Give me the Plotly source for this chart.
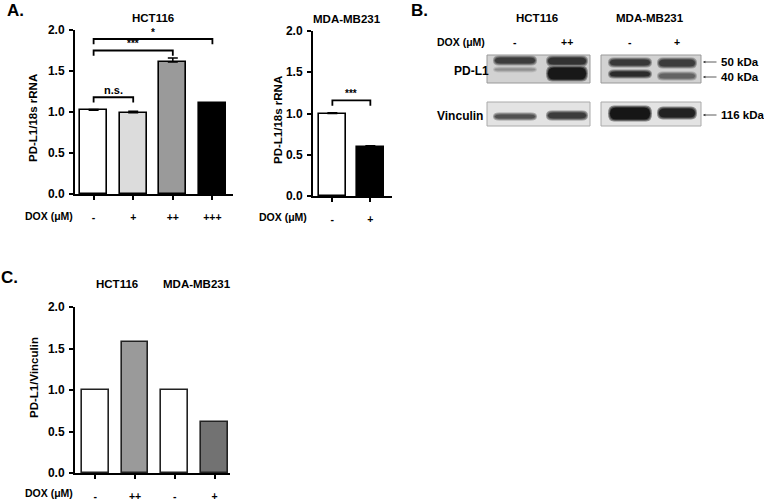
import plotly.graph_objects as go

W, H = 764, 502
FONT = "Arial, Liberation Sans, sans-serif"

# ---- data ----
hct_labels = ["-", "+", "++", "+++"]
hct_vals = [1.02, 0.99, 1.61, 1.11]
hct_err = [0.01, 0.02, 0.05, 0.0]
hct_colors = ["#ffffff", "#dcdcdc", "#9a9a9a", "#000000"]
hct_sig = [(0, 1, 1.18, "n.s."), (0, 2, 1.75, "***"), (0, 3, 1.89, "*")]

mda_labels = ["-", "+"]
mda_vals = [1.0, 0.59]
mda_err = [0.01, 0.02]
mda_colors = ["#ffffff", "#000000"]
mda_sig = [(0, 1, 1.16, "***")]

c_labels = ["-", "++", "-", "+"]
c_vals = [1.0, 1.58, 1.0, 0.62]
c_colors = ["#ffffff", "#9a9a9a", "#ffffff", "#727272"]

yticks = [0.0, 0.5, 1.0, 1.5, 2.0]

# western blot band intensity (0 light .. 1 dark), lanes: HCT -, HCT ++, MDA -, MDA +
pdl1_upper = [0.80, 0.85, 0.82, 0.80]
pdl1_lower = [0.40, 0.97, 0.88, 0.62]
vinc_band = [0.70, 0.80, 0.98, 0.93]


def px(x):
    return x / W


def py(y):
    return 1 - y / H


def gray(v):
    g = int(round(210 * (1 - v) + 18))
    return f"rgb({g},{g},{g})"


fig = go.Figure()
fig.add_trace(go.Bar(x=list(range(4)), y=hct_vals, width=0.69,
                     marker=dict(color=hct_colors, line=dict(color="black", width=1.6)),
                     error_y=dict(type="data", array=hct_err, arrayminus=[0] * 4, symmetric=False,
                                  color="black", thickness=1.5, width=5),
                     xaxis="x", yaxis="y", showlegend=False))
fig.add_trace(go.Bar(x=list(range(2)), y=mda_vals, width=0.71,
                     marker=dict(color=mda_colors, line=dict(color="black", width=1.6)),
                     error_y=dict(type="data", array=mda_err, arrayminus=[0] * 2, symmetric=False,
                                  color="black", thickness=1.5, width=5),
                     xaxis="x2", yaxis="y2", showlegend=False))
fig.add_trace(go.Bar(x=list(range(4)), y=c_vals, width=0.67,
                     marker=dict(color=c_colors, line=dict(color="#222", width=1.6)),
                     xaxis="x3", yaxis="y3", showlegend=False))

tickf = dict(family=FONT, size=12, color="black", weight="bold")
xtickf = dict(family=FONT, size=10.5, color="black", weight="bold")
ax_common = dict(showline=True, linecolor="black", linewidth=2, ticks="outside",
                 ticklen=4, tickwidth=1.5, tickcolor="black", showgrid=False, zeroline=False,
                 automargin=False, fixedrange=True)


def xax(dom, rng, labels, anchor):
    return dict(domain=dom, range=rng, tickvals=list(range(len(labels))), ticktext=labels,
                tickfont=xtickf, ticklabelstandoff=8, anchor=anchor, **ax_common)


def yax(dom, anchor):
    return dict(domain=dom, range=[0, 2.0], tickvals=yticks, tickformat=".1f",
                tickfont=tickf, ticklabelstandoff=2, anchor=anchor, **ax_common)


fig.update_layout(
    width=W, height=H, margin=dict(l=0, r=0, t=0, b=0),
    paper_bgcolor="white", plot_bgcolor="white", bargap=0,
    font=dict(family=FONT, color="black"),
    xaxis=xax([px(75), px(233)], [-0.47, 3.52], hct_labels, "y"),
    yaxis=yax([py(194), py(30)], "x"),
    xaxis2=xax([px(313), px(392)], [-0.51, 1.57], mda_labels, "y2"),
    yaxis2=yax([py(196), py(31)], "x2"),
    xaxis3=xax([px(75), px(230)], [-0.51, 3.39], c_labels, "y3"),
    yaxis3=yax([py(473), py(307)], "x3"),
)

shapes = []
ann = []


def txt(x, y, s, size=11, xanchor="center", angle=0):
    ann.append(dict(x=px(x), y=py(y), xref="paper", yref="paper", text=f"<b>{s}</b>",
                    showarrow=False, xanchor=xanchor, yanchor="middle", textangle=angle,
                    font=dict(family=FONT, size=size, color="black")))


# significance brackets
for sig, xr, yr in ((hct_sig, "x", "y"), (mda_sig, "x2", "y2")):
    for a, b, h, lab in sig:
        shapes.append(dict(type="path", xref=xr, yref=yr,
                           path=f"M {a},{h - 0.065} L {a},{h} L {b},{h} L {b},{h - 0.065}",
                           line=dict(color="black", width=1.8)))
        ann.append(dict(x=(a + b) / 2, y=h, xref=xr, yref=yr, text=f"<b>{lab}</b>",
                        showarrow=False, yanchor="bottom", yshift=-1,
                        font=dict(family=FONT, size=11 if lab == "n.s." else 10, color="black")))

# panel letters, titles, axis labels
txt(5, 11, "A.", 17, "left")
txt(409, 11, "B.", 17, "left")
txt(-1, 277, "C.", 17, "left")
txt(153, 18, "HCT116", 11.5)
txt(347, 19, "MDA-MB231", 11.5)
txt(117, 284, "HCT116", 11.5)
txt(197, 284, "MDA-MB231", 11.5)
txt(33, 118, "PD-L1/18s rRNA", 11.5, angle=-90)
txt(278, 120, "PD-L1/18s rRNA", 11.5, angle=-90)
txt(34, 378, "PD-L1/Vinculin", 11.5, angle=-90)
txt(23, 216, "DOX (μM)", 10.5, "left")
txt(257, 217, "DOX (μM)", 10.5, "left")
txt(23, 493, "DOX (μM)", 10.5, "left")

# ---- western blot (panel B) ----
txt(537, 18, "HCT116", 11.5)
txt(650, 18, "MDA-MB231", 11.5)
txt(435, 42, "DOX (μM)", 10.5, "left")
lane_x = [515, 567, 630, 677]
for xc, lab in zip(lane_x, ["-", "++", "-", "+"]):
    txt(xc, 42, lab, 10.5)
txt(452, 71, "PD-L1", 12, "left")
txt(435, 116, "Vinculin", 12, "left")

boxes = [(487, 590), (601, 701)]
for (x0, x1) in boxes:
    shapes.append(dict(type="rect", xref="paper", yref="paper", x0=px(x0), x1=px(x1),
                       y0=py(83), y1=py(55), fillcolor="#d2d2d2",
                       line=dict(color="#999", width=1), layer="below"))
    shapes.append(dict(type="rect", xref="paper", yref="paper", x0=px(x0), x1=px(x1),
                       y0=py(126), y1=py(102), fillcolor="#e3e3e3",
                       line=dict(color="#aaa", width=1), layer="below"))

up_y = [(57, 64), (57, 65), (59, 66), (59, 67)]
lo_y = [(68, 71), (67, 80), (71, 77), (73, 79)]
vi_y = [(114, 119), (112, 119), (107, 120), (108, 118)]
half_w = [22, 21, 22, 20]


def band(xc, hw, y0, y1, v):
    # layered soft band: faint halo, then darker core
    for grow, f, dw in [(1.5, 0.45, 0), (0.5, 0.75, 1), (-0.5, 1.0, 2)]:
        a0, a1 = y0 - grow, y1 + grow
        if a1 - a0 < 1.5:
            a0, a1 = (y0 + y1) / 2 - 0.75, (y0 + y1) / 2 + 0.75
        w = hw - dw
        m = (a0 + a1) / 2
        r = min(6, w / 3)
        shapes.append(dict(type="path", xref="paper", yref="paper",
                           path=(f"M {px(xc - w)},{py(m)} "
                                 f"Q {px(xc - w)},{py(a0)} {px(xc - w + r)},{py(a0)} "
                                 f"L {px(xc + w - r)},{py(a0)} "
                                 f"Q {px(xc + w)},{py(a0)} {px(xc + w)},{py(m)} "
                                 f"Q {px(xc + w)},{py(a1)} {px(xc + w - r)},{py(a1)} "
                                 f"L {px(xc - w + r)},{py(a1)} "
                                 f"Q {px(xc - w)},{py(a1)} {px(xc - w)},{py(m)} Z"),
                           fillcolor=gray(v * f), line=dict(width=0)))


for i in range(4):
    band(lane_x[i], half_w[i], *up_y[i], pdl1_upper[i])
    band(lane_x[i], half_w[i], *lo_y[i], pdl1_lower[i])
    band(lane_x[i], half_w[i], *vi_y[i], vinc_band[i])

for yk, lab in [(62, "50 kDa"), (77, "40 kDa"), (115, "116 kDa")]:
    ann.append(dict(x=px(703), y=py(yk), ax=15, ay=0, xref="paper", yref="paper", text="",
                    showarrow=True, arrowhead=2, arrowsize=0.6, arrowwidth=0.8,
                    arrowcolor="#333"))
    txt(719, yk, lab, 11.5, "left")

fig.update_layout(shapes=shapes, annotations=ann)
fig.write_html("out.html", config={"displayModeBar": False},
               post_script="document.body.style.margin='0';")
